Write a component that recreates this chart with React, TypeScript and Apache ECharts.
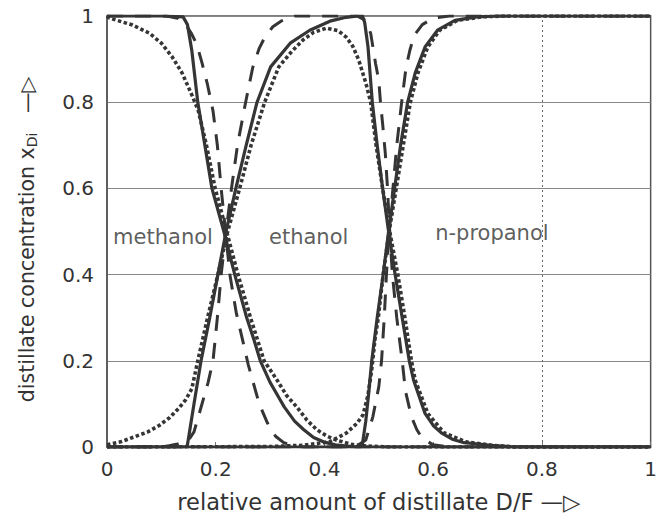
import React, { useEffect, useRef } from "react";
import * as echarts from "echarts";

// ---------- data ----------
const TICKS = [0, 0.2, 0.4, 0.6, 0.8, 1];

const methanolSolid = [
  [0, 1], [0.1, 1], [0.14, 0.998], [0.148, 0.98], [0.156, 0.92], [0.167, 0.8],
  [0.18, 0.7], [0.193, 0.6], [0.215, 0.5], [0.235, 0.4], [0.257, 0.3], [0.27, 0.25],
  [0.282, 0.2], [0.3, 0.15], [0.315, 0.117], [0.326, 0.093], [0.345, 0.06],
  [0.362, 0.04], [0.38, 0.022], [0.398, 0.012], [0.42, 0.005], [0.45, 0.001],
  [0.48, 0], [1, 0],
];
const methanolDashed = [
  [0, 1], [0.11, 1], [0.13, 0.995], [0.145, 0.98], [0.155, 0.96], [0.165, 0.935],
  [0.175, 0.89], [0.185, 0.84], [0.195, 0.78], [0.203, 0.7], [0.21, 0.6],
  [0.218, 0.5], [0.226, 0.4], [0.238, 0.31], [0.25, 0.245], [0.26, 0.19],
  [0.27, 0.145], [0.28, 0.1], [0.295, 0.056], [0.31, 0.025], [0.325, 0.01],
  [0.345, 0.002], [0.36, 0], [1, 0],
];
const methanolDotted = [
  [0, 1], [0.005, 0.995], [0.047, 0.979], [0.078, 0.96], [0.1, 0.937],
  [0.12, 0.905], [0.138, 0.868], [0.155, 0.82], [0.168, 0.78], [0.183, 0.7],
  [0.199, 0.6], [0.22, 0.5], [0.241, 0.4], [0.264, 0.3], [0.289, 0.2],
  [0.313, 0.155], [0.33, 0.12], [0.349, 0.093], [0.368, 0.062], [0.386, 0.04],
  [0.405, 0.025], [0.422, 0.016], [0.45, 0.006], [0.48, 0.002], [0.52, 0], [1, 0],
];

const ethanolSolid = [
  [0, 0], [0.145, 0], [0.148, 0.005], [0.16, 0.1], [0.173, 0.2], [0.189, 0.3],
  [0.204, 0.4], [0.219, 0.5], [0.237, 0.6], [0.256, 0.7], [0.276, 0.8],
  [0.301, 0.882], [0.337, 0.937], [0.373, 0.967], [0.41, 0.988], [0.44, 0.997],
  [0.462, 1], [0.47, 1], [0.474, 0.985], [0.48, 0.93], [0.488, 0.8], [0.497, 0.7],
  [0.507, 0.6], [0.518, 0.5], [0.53, 0.4], [0.543, 0.3], [0.556, 0.2],
  [0.564, 0.155], [0.585, 0.078], [0.6, 0.05], [0.615, 0.033], [0.635, 0.018],
  [0.657, 0.01], [0.706, 0.004], [0.75, 0], [1, 0],
];
const ethanolDashed = [
  [0, 0], [0.1, 0], [0.114, 0.003], [0.13, 0.007], [0.15, 0.016], [0.16, 0.035],
  [0.168, 0.07], [0.177, 0.11], [0.186, 0.15], [0.195, 0.2], [0.203, 0.3],
  [0.21, 0.4], [0.219, 0.5], [0.229, 0.6], [0.24, 0.7], [0.255, 0.8],
  [0.268, 0.88], [0.28, 0.925], [0.29, 0.95], [0.305, 0.975], [0.32, 0.988],
  [0.345, 1], [0.46, 1], [0.475, 0.99], [0.485, 0.96], [0.494, 0.89], [0.5, 0.85],
  [0.503, 0.8], [0.507, 0.75], [0.512, 0.68], [0.516, 0.6], [0.52, 0.5],
  [0.525, 0.4], [0.533, 0.3], [0.543, 0.2], [0.549, 0.13], [0.56, 0.07],
  [0.57, 0.04], [0.58, 0.02], [0.6, 0.005], [0.63, 0], [1, 0],
];
const ethanolDotted = [
  [0, 0.005], [0.025, 0.012], [0.047, 0.022], [0.075, 0.035], [0.096, 0.05],
  [0.115, 0.068], [0.132, 0.09], [0.145, 0.11], [0.156, 0.135], [0.167, 0.2],
  [0.185, 0.3], [0.204, 0.4], [0.222, 0.5], [0.244, 0.6], [0.265, 0.7],
  [0.29, 0.8], [0.316, 0.882], [0.34, 0.918], [0.361, 0.945], [0.38, 0.962],
  [0.404, 0.972], [0.425, 0.966], [0.44, 0.951], [0.452, 0.93], [0.463, 0.898],
  [0.476, 0.845], [0.485, 0.8], [0.495, 0.7], [0.507, 0.6], [0.52, 0.5],
  [0.535, 0.4], [0.548, 0.3], [0.56, 0.2], [0.567, 0.155], [0.59, 0.078],
  [0.62, 0.033], [0.66, 0.012], [0.71, 0.004], [0.75, 0], [1, 0],
];

const propanolSolid = [
  [0, 0], [0.466, 0], [0.47, 0.008], [0.476, 0.06], [0.481, 0.12], [0.487, 0.2],
  [0.497, 0.3], [0.508, 0.4], [0.518, 0.5], [0.529, 0.6], [0.54, 0.7],
  [0.553, 0.8], [0.567, 0.868], [0.585, 0.928], [0.608, 0.967], [0.64, 0.99],
  [0.68, 0.998], [0.72, 1], [1, 1],
];
const propanolDashed = [
  [0, 0], [0.44, 0], [0.46, 0.003], [0.476, 0.016], [0.489, 0.07], [0.5, 0.14],
  [0.505, 0.2], [0.51, 0.3], [0.514, 0.4], [0.519, 0.5], [0.526, 0.6],
  [0.533, 0.7], [0.542, 0.8], [0.55, 0.88], [0.557, 0.92], [0.565, 0.955],
  [0.58, 0.98], [0.6, 0.995], [0.63, 1], [1, 1],
];
const propanolDotted = [
  [0, 0], [0.3, 0.001], [0.36, 0.004], [0.409, 0.012], [0.44, 0.032],
  [0.46, 0.055], [0.471, 0.075], [0.48, 0.12], [0.487, 0.18], [0.493, 0.25],
  [0.499, 0.3], [0.508, 0.4], [0.519, 0.5], [0.532, 0.6], [0.545, 0.7],
  [0.558, 0.8], [0.572, 0.868], [0.59, 0.928], [0.612, 0.967], [0.645, 0.99],
  [0.69, 0.998], [0.73, 1], [1, 1],
];

const componentLabels = ["methanol", "ethanol", "n-propanol"];
const labelX = [0.103, 0.371, 0.708];
const labelY = [0.488, 0.488, 0.497];

const GRID_X = 0.8;

// ---------- chart ----------
const FONT = "DejaVu Sans";
const INK = "#353535";
const TEXT = "#333";

export default function App() {
  const ref = useRef<HTMLDivElement>(null);

  useEffect(() => {
    if (!ref.current) return;
    const chart = echarts.init(ref.current, undefined, { renderer: "svg" });

    const solid = { color: INK, width: 3.2, type: "solid" as const, join: "round" as const };
    const dashed = { color: INK, width: 3, type: [16, 12], cap: "butt" as const };
    const dotted = { color: INK, width: 3.6, type: [3.5, 2.5], cap: "butt" as const };

    const mk = (name: string, data: number[][], ls: any, extra: any = {}) => ({
      name,
      type: "line",
      data,
      showSymbol: false,
      symbol: "none",
      smooth: false,
      lineStyle: ls,
      z: 3,
      ...extra,
    });

    const option: any = {
      animation: false,
      backgroundColor: "#fff",
      grid: {
        left: 107,
        right: 1,
        top: 16,
        bottom: 76,
        show: true,
        borderColor: "#555",
        borderWidth: 1.5,
      },
      xAxis: {
        type: "value",
        min: TICKS[0],
        max: TICKS[TICKS.length - 1],
        interval: 0.2,
        axisLine: { show: true, onZero: false, lineStyle: { color: "#555", width: 1.5 } },
        axisTick: { show: true, inside: true, length: 5, lineStyle: { color: "#777" } },
        axisLabel: { fontFamily: FONT, fontSize: 20, color: TEXT, margin: 12 },
        splitLine: { show: false },
        name: "relative amount of distillate D/F —▷",
        nameLocation: "middle",
        nameGap: 43,
        nameTextStyle: { fontFamily: FONT, fontSize: 22.5, color: TEXT },
      },
      yAxis: {
        type: "value",
        min: TICKS[0],
        max: TICKS[TICKS.length - 1],
        interval: 0.2,
        axisLine: { show: true, onZero: false, lineStyle: { color: "#555", width: 1.5 } },
        axisTick: { show: false },
        axisLabel: { fontFamily: FONT, fontSize: 20, color: TEXT, margin: 13 },
        splitLine: { show: true, lineStyle: { color: "#888", width: 1 } },
        name: "{m|distillate concentration x}{s|Di}{m|   —▷}{pad|}",
        nameLocation: "middle",
        nameRotate: 90,
        nameGap: 68,
        nameTextStyle: {
          rich: {
            m: { fontFamily: FONT, fontSize: 20.5, color: TEXT },
            s: { fontFamily: FONT, fontSize: 14, color: TEXT, padding: [10, 0, 0, 0] },
            pad: { width: 16 },
          },
        },
      },
      series: [
        mk("methanol solid", methanolSolid, solid, {
          markLine: {
            silent: true,
            symbol: "none",
            label: { show: false },
            lineStyle: { color: "#666", width: 1, type: [2, 3] },
            data: [{ xAxis: GRID_X }],
            z: 1,
          },
        }),
        mk("methanol dashed", methanolDashed, dashed),
        mk("methanol dotted", methanolDotted, dotted),
        mk("ethanol solid", ethanolSolid, solid),
        mk("ethanol dashed", ethanolDashed, dashed),
        mk("ethanol dotted", ethanolDotted, dotted),
        mk("n-propanol solid", propanolSolid, solid),
        mk("n-propanol dashed", propanolDashed, dashed),
        mk("n-propanol dotted", propanolDotted, dotted),
        {
          name: "labels",
          type: "scatter",
          symbolSize: 0,
          z: 5,
          data: componentLabels.map((n, i) => ({ name: n, value: [labelX[i], labelY[i]] })),
          label: {
            show: true,
            position: "inside",
            formatter: (p: any) => p.name,
            fontFamily: FONT,
            fontSize: 21,
            color: TEXT,
          },
        },
      ],
    };

    chart.setOption(option);
    return () => chart.dispose();
  }, []);

  return (
    <div
      ref={ref}
      style={{ position: "fixed", left: 0, top: 0, width: 660, height: 523, background: "#fff" }}
    />
  );
}
